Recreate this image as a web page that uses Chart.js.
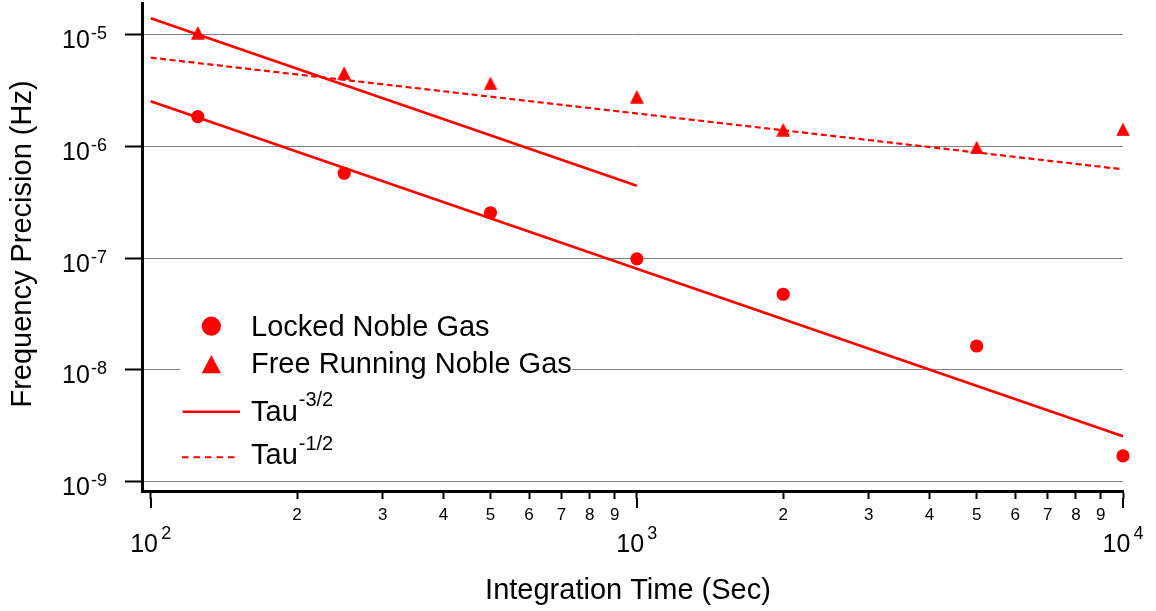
<!DOCTYPE html>
<html>
<head>
<meta charset="utf-8">
<script src="https://cdn.jsdelivr.net/npm/chart.js@4"></script>
<style>
  html, body { margin: 0; padding: 0; background: #fff; }
  #wrap { width: 1156px; height: 611px; position: relative; }
</style>
</head>
<body>
<div id="wrap"><canvas id="c"></canvas></div>
<script>
// ---- data ----
const integrationTimes = [125, 250, 500, 1000, 2000, 5000, 10000];
const lockedPrecision = [1.86e-6, 5.78e-7, 2.56e-7, 9.9e-8, 4.77e-8, 1.64e-8, 1.70e-9];
const freePrecision = [1.048e-5, 4.57e-6, 3.69e-6, 2.80e-6, 1.42e-6, 9.83e-7, 1.43e-6];

const tau32UpperX = [100, 1000];
const tau32UpperY = [1.41e-5, 4.46e-7];
const tau32LowerX = [100, 10000];
const tau32LowerY = [2.55e-6, 2.55e-9];
const tau12X = [100, 10000];
const tau12Y = [6.27e-6, 6.27e-7];

const yTickExponents = [-5, -6, -7, -8, -9];
const xMajorExponents = [2, 3, 4];
const xMinorMultipliers = [2, 3, 4, 5, 6, 7, 8, 9];

const legendLabels = ['Locked Noble Gas', 'Free Running Noble Gas', 'Tau', 'Tau'];
const legendSups = ['', '', '-3/2', '-1/2'];

const xTitle = 'Integration Time (Sec)';
const yTitle = 'Frequency Precision (Hz)';

// ---- derived ----
const toPts = (xs, ys) => xs.map((x, i) => ({x: x, y: ys[i]}));
const yTickValues = yTickExponents.map(e => Math.pow(10, e));
const xMajorValues = xMajorExponents.map(e => Math.pow(10, e));
const xMinorValues = [];
xMajorValues.slice(0, -1).forEach(d => xMinorMultipliers.forEach(m => xMinorValues.push(m * d)));
const xAllTicks = xMajorValues.concat(xMinorValues).sort((a, b) => a - b);

const RED = '#ff0000';
const FONT = '"Liberation Sans", Arial, sans-serif';

// triangle marker image (bbox-centred)
const tri = document.createElement('canvas');
tri.width = 14; tri.height = 14;
(function () {
  const t = tri.getContext('2d');
  t.fillStyle = RED;
  t.beginPath();
  t.moveTo(7, 0.2); t.lineTo(13.9, 13.7); t.lineTo(0.1, 13.7); t.closePath();
  t.fill();
})();

const textPlugin = {
  id: 'textPlugin',
  beforeDatasetsDraw(chart) {
    const ctx = chart.ctx;
    ctx.save();
    ctx.fillStyle = '#fff';
    ctx.fillRect(180, 303, 392, 172);
    ctx.restore();
  },
  afterDraw(chart) {
    const ctx = chart.ctx;
    const xs = chart.scales.x, ys = chart.scales.y;
    ctx.save();
    ctx.fillStyle = '#000';
    ctx.strokeStyle = '#000';
    ctx.textBaseline = 'alphabetic';

    // major x tick extension
    ctx.lineWidth = 2;
    xMajorValues.forEach(v => {
      const px = Math.round(xs.getPixelForValue(v));
      ctx.beginPath();
      ctx.moveTo(px, 498);
      ctx.lineTo(px, 508);
      ctx.stroke();
    });

    // y tick labels
    yTickExponents.forEach((e, i) => {
      const py = ys.getPixelForValue(yTickValues[i]);
      ctx.textAlign = 'left';
      ctx.font = '25px ' + FONT;
      ctx.fillText('10', 62, py + 13.3);
      ctx.font = '18px ' + FONT;
      ctx.fillText(String(e), 91, py + 4.5);
    });

    // x major labels
    xMajorExponents.forEach((e, i) => {
      const px = xs.getPixelForValue(xMajorValues[i]);
      ctx.textAlign = 'left';
      ctx.font = '25px ' + FONT;
      ctx.fillText('10', px - 20.5, 551.7);
      ctx.font = '18px ' + FONT;
      ctx.fillText(String(e), px + 10.5, 539.3);
    });

    // x minor labels
    ctx.textAlign = 'center';
    ctx.font = '17px ' + FONT;
    xMinorValues.forEach(v => {
      const px = xs.getPixelForValue(v);
      const m = Math.round(v / Math.pow(10, Math.floor(Math.log10(v) + 1e-9)));
      ctx.fillText(String(m), px, 519.5);
    });

    // axis titles
    ctx.font = '29px ' + FONT;
    ctx.textAlign = 'center';
    ctx.fillText(xTitle, 628, 599);
    ctx.save();
    ctx.translate(31, 244);
    ctx.rotate(-Math.PI / 2);
    ctx.fillText(yTitle, 0, 0);
    ctx.restore();

    // legend
    ctx.fillStyle = RED;
    ctx.beginPath();
    ctx.arc(211.3, 326.2, 9.6, 0, Math.PI * 2);
    ctx.fill();
    ctx.beginPath();
    ctx.moveTo(211.3, 355); ctx.lineTo(221, 373.3); ctx.lineTo(201.7, 373.3); ctx.closePath();
    ctx.fill();
    ctx.strokeStyle = RED;
    ctx.lineWidth = 2.5;
    ctx.beginPath(); ctx.moveTo(182.7, 411.7); ctx.lineTo(240, 411.7); ctx.stroke();
    ctx.lineWidth = 2;
    ctx.setLineDash([6.5, 5]);
    ctx.beginPath(); ctx.moveTo(182, 457.3); ctx.lineTo(236, 457.3); ctx.stroke();
    ctx.setLineDash([]);

    ctx.fillStyle = '#000';
    ctx.textAlign = 'left';
    const baselines = [335.7, 372.7, 420.7, 464.3];
    const supBaselines = [0, 0, 405.5, 450];
    legendLabels.forEach((lab, i) => {
      ctx.font = '29px ' + FONT;
      ctx.fillText(lab, 251, baselines[i]);
      if (legendSups[i]) {
        const w = ctx.measureText(lab).width;
        ctx.font = '20px ' + FONT;
        ctx.fillText(legendSups[i], 251 + w + 1, supBaselines[i]);
      }
    });
    ctx.restore();
  }
};

new Chart(document.getElementById('c'), {
  type: 'scatter',
  data: {
    datasets: [
      {
        label: 'Locked Noble Gas',
        data: toPts(integrationTimes, lockedPrecision),
        pointStyle: 'circle', pointRadius: 6.6, pointBorderWidth: 0,
        backgroundColor: RED, borderColor: RED, showLine: false, clip: false
      },
      {
        label: 'Free Running Noble Gas',
        data: toPts(integrationTimes, freePrecision),
        pointStyle: tri, pointRadius: 7,
        backgroundColor: RED, borderColor: RED, showLine: false, clip: false
      },
      {
        label: 'Tau-3/2 a',
        data: toPts(tau32UpperX, tau32UpperY),
        showLine: true, borderColor: RED, borderWidth: 2.6, pointRadius: 0, fill: false, clip: false
      },
      {
        label: 'Tau-3/2 b',
        data: toPts(tau32LowerX, tau32LowerY),
        showLine: true, borderColor: RED, borderWidth: 2.6, pointRadius: 0, fill: false, clip: false
      },
      {
        label: 'Tau-1/2',
        data: toPts(tau12X, tau12Y),
        showLine: true, borderColor: RED, borderWidth: 2.2, borderDash: [6, 3.5], pointRadius: 0, fill: false, clip: false
      }
    ]
  },
  options: {
    responsive: true,
    maintainAspectRatio: false,
    animation: false,
    events: [],
    layout: { padding: { left: 125, right: 33, top: 3, bottom: 112 }, autoPadding: false },
    plugins: { legend: { display: false }, tooltip: { enabled: false }, title: { display: false } },
    scales: {
      x: {
        type: 'logarithmic',
        min: 95.96, max: 10000,
        afterBuildTicks: s => { s.ticks = xAllTicks.map(v => ({value: v})); },
        ticks: { display: false },
        grid: { display: true, drawOnChartArea: false, drawTicks: true, tickLength: 8, tickWidth: 2, tickColor: '#000' },
        border: { display: true, color: '#000', width: 3 },
        title: { display: false }
      },
      y: {
        type: 'logarithmic',
        min: 8.25e-10, max: 1.934e-5,
        afterBuildTicks: s => { s.ticks = yTickValues.map(v => ({value: v})); },
        ticks: { display: false },
        grid: { display: true, drawOnChartArea: true, color: '#808080', lineWidth: 1, drawTicks: true, tickLength: 17, tickWidth: 2, tickColor: '#000' },
        border: { display: true, color: '#000', width: 3 },
        title: { display: false }
      }
    }
  },
  plugins: [textPlugin]
});
</script>
</body>
</html>
